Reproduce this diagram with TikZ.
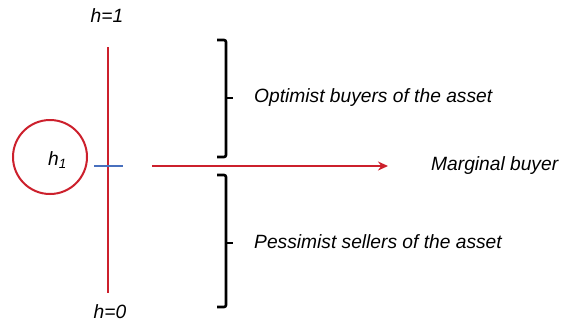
\documentclass[tikz,border=0pt]{standalone}
\usepackage{fontspec}
\setmainfont{Liberation Sans}
\usetikzlibrary{arrows.meta}
\definecolor{myred}{RGB}{204,32,44}
\definecolor{myblue}{RGB}{72,112,190}
\tikzset{
  redline/.style={draw=myred, line width=2.6pt},
  brk/.style={draw=black, line width=2.6pt, rounded corners=2pt},
  lbl/.style={font=\fontsize{19.2}{22}\selectfont\itshape, inner sep=0pt},
}
\begin{document}
\begin{tikzpicture}[x=1pt,y=-1pt]
\useasboundingbox (0,0) rectangle (561,322);
% vertical axis
\coordinate (top) at (108,47);
\coordinate (bot) at (108,293);
\draw[redline] (top) -- (bot);
\coordinate (bl) at (94,166);
\coordinate (br) at (123,166);
\draw[draw=myblue, line width=2.6pt] (bl) -- (br);
\node[lbl, anchor=base] (h1top) at (107,22) {h=1};
\node[lbl, anchor=base] (h0) at (110,318) {h=0};
% circle
\node[circle, draw=myred, line width=2pt, minimum size=74pt, inner sep=0pt] (c) at (50,157) {};
\node[lbl, anchor=base west] (h1) at (48,165) {h\textsubscript{1}};
% arrow
\coordinate (as) at (152,166);
\node[lbl, anchor=west] (mb) at (431,166) {Marginal buyer};
\coordinate (ae) at (388,166);
\draw[redline, -{Stealth[length=10pt,width=9pt]}] (as) -- (ae);
% brackets
\draw[brk] (217,40) -- (226,40) -- (226,157) -- (217,157);
\coordinate (t1) at (226,98);
\coordinate (t1e) at (233,98);
\draw[black, line width=2.6pt] (t1) -- (t1e);
\node[lbl, anchor=west] (opt) at (254,98) {Optimist buyers of the asset};
\draw[brk] (217,175) -- (226,175) -- (226,307) -- (217,307);
\coordinate (t2) at (226,243);
\coordinate (t2e) at (233,243);
\draw[black, line width=2.6pt] (t2) -- (t2e);
\node[lbl, anchor=west] (pes) at (254,242) {Pessimist sellers of the asset};
\end{tikzpicture}
\end{document}
